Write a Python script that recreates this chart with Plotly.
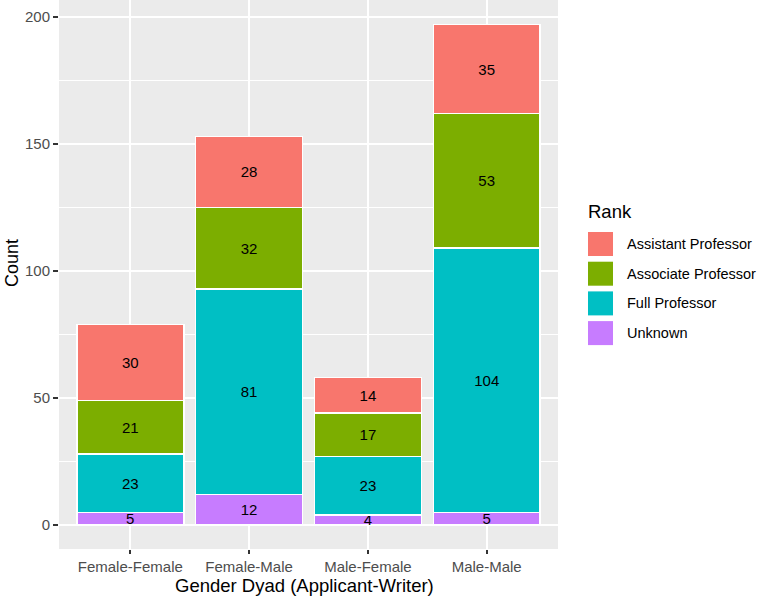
import plotly.graph_objects as go

categories = ["Female-Female", "Female-Male", "Male-Female", "Male-Male"]
ranks = ["Unknown", "Full Professor", "Associate Professor", "Assistant Professor"]
unknown = [5, 12, 4, 5]
full_prof = [23, 81, 23, 104]
assoc_prof = [21, 32, 17, 53]
assist_prof = [30, 28, 14, 35]
colors = {"Assistant Professor": "#F8766D", "Associate Professor": "#7CAE00",
          "Full Professor": "#00BFC4", "Unknown": "#C77CFF"}
series = {"Unknown": unknown, "Full Professor": full_prof,
          "Associate Professor": assoc_prof, "Assistant Professor": assist_prof}
legend_order = ["Assistant Professor", "Associate Professor", "Full Professor", "Unknown"]

FONT = "Liberation Sans, Arial, sans-serif"
W, H = 762, 596
ML, MR, MT, MB = 59, 204, 0, 47
PW, PH = W - ML - MR, H - MT - MB


def px(xpix):
    return (xpix - ML) / PW


def py(ypix):
    return 1 - (ypix - MT) / PH


fig = go.Figure()
for r in ranks:
    fig.add_trace(go.Bar(
        x=categories, y=series[r], name=r, width=0.9,
        marker=dict(color=colors[r], line=dict(color="white", width=1.5)),
        text=[str(v) for v in series[r]], textposition="inside",
        insidetextanchor="middle", textangle=0,
        textfont=dict(color="black", size=15, family=FONT),
        showlegend=False, hoverinfo="skip",
    ))

fig.update_layout(
    barmode="stack",
    width=W, height=H,
    margin=dict(l=ML, r=MR, t=MT, b=MB, autoexpand=False),
    paper_bgcolor="white", plot_bgcolor="#EBEBEB",
    font=dict(family=FONT, color="black"),
    uniformtext=dict(minsize=15, mode="show"),
    xaxis=dict(
        range=[-0.6, len(categories) - 0.4],
        showgrid=True, gridcolor="white", gridwidth=2,
        ticks="outside", ticklen=4, tickwidth=1.5, tickcolor="#333333",
        tickfont=dict(size=15, color="#4D4D4D", family=FONT),
        zeroline=False, showline=False,
    ),
    yaxis=dict(
        range=[-9.45, 206.7],
        tick0=0, dtick=50,
        showgrid=True, gridcolor="white", gridwidth=2,
        minor=dict(dtick=25, showgrid=True, gridcolor="white", gridwidth=1, ticks=""),
        ticks="outside", ticklen=5, tickwidth=1.5, tickcolor="#333333",
        tickfont=dict(size=15, color="#4D4D4D", family=FONT),
        zeroline=False, showline=False,
    ),
)

# Axis titles
fig.add_annotation(xref="paper", yref="paper", x=px(ML + PW / 2 - 4), y=py(585),
                   text="Gender Dyad (Applicant-Writer)", showarrow=False,
                   xanchor="center", yanchor="middle",
                   font=dict(size=18.5, family=FONT, color="black"))
fig.add_annotation(xref="paper", yref="paper", x=px(12), y=py(263),
                   text="Count", showarrow=False, textangle=-90,
                   xanchor="center", yanchor="middle",
                   font=dict(size=18, family=FONT, color="black"))

# Legend (drawn manually to mimic ggplot2 guide)
fig.add_annotation(xref="paper", yref="paper", x=px(586), y=py(211), text="Rank",
                   showarrow=False, xanchor="left", yanchor="middle",
                   font=dict(size=18.5, family=FONT, color="black"))
for i, r in enumerate(legend_order):
    top = 232 + i * 29.7
    fig.add_shape(type="rect", xref="paper", yref="paper",
                  x0=px(588), x1=px(613), y0=py(top + 24), y1=py(top),
                  fillcolor=colors[r], line=dict(width=0))
    fig.add_annotation(xref="paper", yref="paper", x=px(625), y=py(top + 12),
                       text=r, showarrow=False, xanchor="left", yanchor="middle",
                       font=dict(size=14.5, family=FONT, color="black"))

fig.write_html("out.html", config={"displayModeBar": False},
               post_script="document.body.style.margin='0';")
